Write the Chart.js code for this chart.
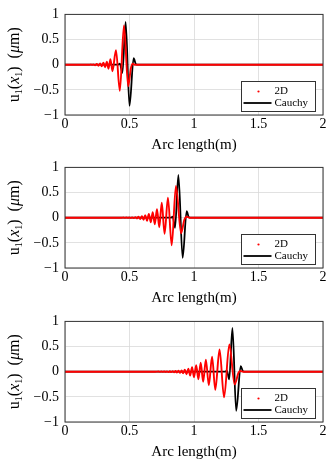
<!DOCTYPE html>
<html lang="en">

<head>
  <meta charset="UTF-8">
  <title>Wave packet along arc length</title>
  <style>
    body { margin: 0; background: #fff; }
    .plot { position: absolute; left: 0; }
  </style>
</head>

<body>
  <canvas id="c1" class="plot" width="332" height="154" style="top:0px"></canvas>
  <canvas id="c2" class="plot" width="332" height="154" style="top:153px"></canvas>
  <canvas id="c3" class="plot" width="332" height="154" style="top:307px"></canvas>

  <script src="https://cdn.jsdelivr.net/npm/chart.js@4.4.8/dist/chart.umd.min.js"></script>
  <script>
    // axis ticks
    const xTicks = [0, 0.5, 1, 1.5, 2];
    const xTickLabels = ['0', '0.5', '1', '1.5', '2'];
    const yTicks = [-1, -0.5, 0, 0.5, 1];
    const yTickLabels = ['\u22121', '\u22120.5', '0', '0.5', '1'];

    // plot 1 - 2D (red dots)
    const arc2D_1 = [0, 0.19, 0.20, 0.21, 0.22, 0.233, 0.246, 0.259, 0.272, 0.285, 0.298, 0.311, 0.324, 0.337, 0.352, 0.368, 0.395, 0.425, 0.457, 0.49, 0.51, 0.525, 0.54, 2];
    const u2D_1 = [0, 0, 0.003, -0.004, 0.006, -0.01, 0.015, -0.02, 0.025, -0.03, 0.04, -0.05, 0.06, -0.08, 0.11, -0.13, 0.29, -0.52, 0.78, -0.43, -0.08, 0.02, 0, 0];
    // plot 1 - Cauchy (black line)
    const arcC_1 = [0, 0.41, 0.425, 0.445, 0.47, 0.50, 0.532, 0.55, 0.57, 2];
    const uC_1 = [0, 0, 0.02, -0.16, 0.85, -0.82, 0.13, 0.01, 0, 0];

    // plot 2
    const arc2D_2 = [0, 0.44, 0.452, 0.464, 0.476, 0.488, 0.499, 0.51, 0.522, 0.534, 0.546, 0.558, 0.57, 0.583, 0.596, 0.609, 0.622, 0.636, 0.65, 0.665, 0.68, 0.696, 0.713, 0.731, 0.75, 0.772, 0.798, 0.827, 0.86, 0.90, 0.925, 0.945, 0.965, 2];
    const u2D_2 = [0, 0, 0.003, -0.003, 0.004, -0.004, 0.005, -0.006, 0.007, -0.009, 0.012, -0.015, 0.02, -0.025, 0.03, -0.04, 0.05, -0.06, 0.075, -0.09, 0.11, -0.13, 0.17, -0.19, 0.30, -0.32, 0.40, -0.55, 0.63, -0.31, -0.04, 0.02, 0, 0];
    const arcC_2 = [0, 0.82, 0.835, 0.853, 0.879, 0.912, 0.943, 0.96, 0.98, 2];
    const uC_2 = [0, 0, 0.02, -0.2, 0.85, -0.8, 0.13, 0.01, 0, 0];

    // plot 3
    const arc2D_3 = [0, 0.70, 0.725, 0.736, 0.747, 0.758, 0.769, 0.78, 0.791, 0.802, 0.813, 0.824, 0.835, 0.846, 0.857, 0.868, 0.88, 0.892, 0.904, 0.916, 0.929, 0.942, 0.956, 0.97, 0.985, 1.0, 1.017, 1.034, 1.052, 1.071, 1.092, 1.115, 1.14, 1.165, 1.198, 1.233, 1.274, 1.315, 1.345, 1.36, 1.38, 2];
    const u2D_3 = [0, 0, 0.003, -0.003, 0.004, -0.004, 0.005, -0.005, 0.006, -0.007, 0.008, -0.009, 0.01, -0.012, 0.014, -0.016, 0.019, -0.022, 0.026, -0.03, 0.04, -0.05, 0.06, -0.075, 0.09, -0.11, 0.13, -0.15, 0.18, -0.2, 0.24, -0.27, 0.3, -0.36, 0.44, -0.51, 0.54, -0.25, -0.02, 0.015, 0, 0];
    const arcC_3 = [0, 1.24, 1.255, 1.273, 1.298, 1.327, 1.362, 1.38, 1.40, 2];
    const uC_3 = [0, 0, 0.02, -0.15, 0.87, -0.78, 0.11, 0.01, 0, 0];

    const FONT = "'Liberation Serif', 'DejaVu Serif', serif";
    Chart.defaults.color = '#000';
    Chart.defaults.font.family = FONT;

    function pts(xs, ys) {
      return xs.map((x, i) => ({ x: x, y: ys[i] }));
    }

    // y axis title pieces: u_1(x_1) (mu m), x and mu in italics
    const yTitleParts = [
      { t: 'u' }, { t: '1', sub: true }, { t: '(' }, { t: 'x', it: true }, { t: '1', sub: true },
      { t: ')' }, { t: '\u2002(' }, { t: '\u03bc', it: true }, { t: 'm' }, { t: ')' }
    ];

    function partFont(p) {
      return (p.it ? 'italic ' : '') + (p.sub ? '10px ' : '16px ') + FONT;
    }

    // frame around the plot area, y title and legend box in the lower right corner
    const framePlugin = {
      id: 'frame',
      afterDraw(chart) {
        const ctx = chart.ctx;
        const a = chart.chartArea;
        ctx.save();
        ctx.strokeStyle = '#333';
        ctx.lineWidth = 1;
        ctx.strokeRect(a.left, a.top, a.right - a.left, a.bottom - a.top);

        // y title
        ctx.save();
        ctx.translate(13, (a.top + a.bottom) / 2);
        ctx.rotate(-Math.PI / 2);
        ctx.fillStyle = '#000';
        ctx.textBaseline = 'alphabetic';
        ctx.textAlign = 'left';
        let total = 0;
        yTitleParts.forEach(p => { ctx.font = partFont(p); total += ctx.measureText(p.t).width; });
        let x = -total / 2;
        yTitleParts.forEach(p => {
          ctx.font = partFont(p);
          ctx.fillText(p.t, x, p.sub ? 8.5 : 5.5);
          x += ctx.measureText(p.t).width;
        });
        ctx.restore();

        // legend
        const x0 = Math.round(a.right - 82) + 0.5;
        const y0 = Math.round(a.bottom - 34) + 0.5;
        ctx.fillStyle = '#fff';
        ctx.fillRect(x0, y0, 74, 30);
        ctx.strokeRect(x0, y0, 74, 30);
        ctx.fillStyle = '#ff0000';
        ctx.beginPath();
        ctx.arc(x0 + 17, y0 + 10, 1.1, 0, Math.PI * 2);
        ctx.fill();
        ctx.strokeStyle = '#000';
        ctx.lineWidth = 1.8;
        ctx.beginPath();
        ctx.moveTo(x0 + 2, y0 + 21.5);
        ctx.lineTo(x0 + 30, y0 + 21.5);
        ctx.stroke();
        ctx.fillStyle = '#000';
        ctx.font = '11px ' + FONT;
        ctx.textBaseline = 'middle';
        ctx.textAlign = 'left';
        ctx.fillText('2D', x0 + 33, y0 + 10);
        ctx.fillText('Cauchy', x0 + 33, y0 + 21.5);
        ctx.restore();
      }
    };

    function makeChart(id, arc2D, u2D, arcC, uC) {
      return new Chart(document.getElementById(id), {
        type: 'line',
        data: {
          datasets: [
            {
              label: '2D',
              data: pts(arc2D, u2D),
              borderColor: '#ff0000',
              borderWidth: 1.9,
              pointRadius: 0,
              cubicInterpolationMode: 'monotone'
            },
            {
              label: 'Cauchy',
              data: pts(arcC, uC),
              borderColor: '#000',
              borderWidth: 1.8,
              pointRadius: 0,
              cubicInterpolationMode: 'monotone'
            }
          ]
        },
        options: {
          responsive: false,
          animation: false,
          events: [],
          layout: { padding: { top: 10, right: 9, left: 0, bottom: 0 } },
          plugins: { legend: { display: false }, tooltip: { enabled: false } },
          scales: {
            x: {
              type: 'linear',
              min: 0,
              max: 2,
              afterBuildTicks: s => { s.ticks = xTicks.map(v => ({ value: v })); },
              afterFit: s => { s.height = 39; },
              ticks: {
                padding: 1,
                font: { size: 14 },
                callback: (v, i) => xTickLabels[i]
              },
              grid: { color: '#d9d9d9', lineWidth: 0.8, drawTicks: false },
              border: { display: false },
              title: {
                display: true,
                text: 'Arc length(m)',
                font: { size: 15 },
                padding: { top: 0, bottom: 0 }
              }
            },
            y: {
              min: -1,
              max: 1,
              afterBuildTicks: s => { s.ticks = yTicks.map(v => ({ value: v })); },
              afterFit: s => { s.width = 65; },
              ticks: {
                padding: 6,
                font: { size: 14 },
                callback: (v, i) => yTickLabels[i]
              },
              grid: { color: '#d9d9d9', lineWidth: 0.8, drawTicks: false },
              border: { display: false }
            }
          }
        },
        plugins: [framePlugin]
      });
    }

    makeChart('c1', arc2D_1, u2D_1, arcC_1, uC_1);
    makeChart('c2', arc2D_2, u2D_2, arcC_2, uC_2);
    makeChart('c3', arc2D_3, u2D_3, arcC_3, uC_3);
  </script>
</body>

</html>
